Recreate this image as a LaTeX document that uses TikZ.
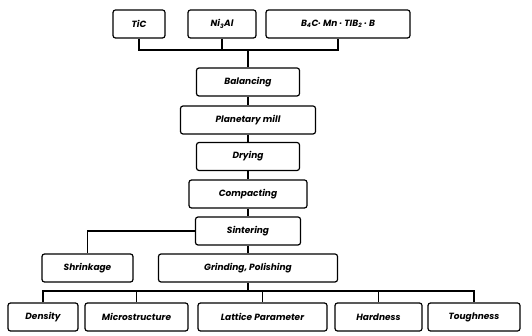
\documentclass[tikz,border=0pt]{standalone}
\usepackage{fontspec}
\setmainfont{Poppins}
\begin{document}
\begin{tikzpicture}[x=1pt,y=-1pt,
  box/.style={draw=black,line width=1.2pt,rounded corners=2.5pt,minimum height=28pt,inner sep=0pt,font=\fontsize{9}{10}\selectfont\bfseries\itshape},
  conn/.style={draw=black,line width=1.2pt}]
\useasboundingbox[fill=white] (0,0) rectangle (532,336);
% top row
\node[box,minimum width=52pt] (tic) at (139,24) {TiC};
\node[box,minimum width=68pt] (ni) at (222,24) {Ni\textsubscript{3}Al};
\node[box,minimum width=144pt] (b4c) at (338,24) {B\textsubscript{4}C· Mn · TIB\textsubscript{2} · B};
\coordinate (jt) at (248,50);
% stack
\node[box,minimum width=103pt] (bal) at (248,82) {Balancing};
\node[box,minimum width=135pt] (pm) at (248,120) {Planetary mill};
\node[box,minimum width=103pt] (dry) at (248,156.5) {Drying};
\node[box,minimum width=118pt] (comp) at (248,194) {Compacting};
\node[box,minimum width=105pt] (sint) at (248,231) {Sintering};
\node[box,minimum width=91pt] (shr) at (87.5,268) {Shrinkage};
\node[box,minimum width=179pt] (grind) at (248,268) {Grinding, Polishing};
\coordinate (jb) at (248,291);
% bottom row
\node[box,minimum width=70pt] (den) at (43,317) {Density};
\node[box,minimum width=103pt] (mic) at (136.5,317) {Microstructure};
\node[box,minimum width=129pt] (lat) at (262.5,317) {Lattice Parameter};
\node[box,minimum width=87pt] (har) at (378.5,317) {Hardness};
\node[box,minimum width=92pt] (tou) at (474,317) {Toughness};
% connectors
\draw[conn] (tic.south) |- (jt) -| (b4c.south);
\draw[conn] (ni.south) -- (ni.south |- jt);
\draw[conn] (jt) -- (bal.north);
\draw[conn] (bal) -- (pm);
\draw[conn] (pm) -- (dry);
\draw[conn] (dry) -- (comp);
\draw[conn] (comp) -- (sint);
\draw[conn] (sint.west) -| (shr.north);
\draw[conn] (sint) -- (grind);
\draw[conn] (grind.south) -- (jb);
\draw[conn] (den.north) |- (jb) -| (tou.north);
\draw[conn] (mic.north) -- (mic.north |- jb);
\draw[conn] (lat.north) -- (lat.north |- jb);
\draw[conn] (har.north) -- (har.north |- jb);
\end{tikzpicture}
\end{document}
